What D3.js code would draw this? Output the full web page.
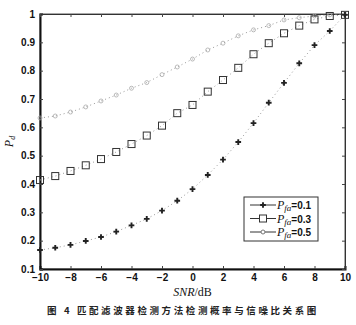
<!DOCTYPE html>
<html>
<head>
<meta charset="utf-8">
<script src="https://cdn.jsdelivr.net/npm/d3@7"></script>
<style>
  body { margin: 0; background: #fff; }
  svg { display: block; }
  .tick text { font-family: "Liberation Sans", Arial, sans-serif; font-weight: bold; font-size: 10px; fill: #111; }
</style>
</head>
<body>
<div id="svg_container"></div>
<script>
// SNR (dB) on x
let snr = [-10, -9, -8, -7, -6, -5, -4, -3, -2, -1, 0, 1, 2, 3, 4, 5, 6, 7, 8, 9, 10];
// detection probability for each false alarm level
let pd01 = [0.167, 0.175, 0.185, 0.199, 0.213, 0.232, 0.254, 0.277, 0.306, 0.341, 0.382, 0.432, 0.486, 0.548, 0.615, 0.687, 0.757, 0.826, 0.89, 0.94, 0.997];
let pd03 = [0.414, 0.428, 0.446, 0.466, 0.488, 0.513, 0.541, 0.571, 0.606, 0.65, 0.679, 0.726, 0.767, 0.81, 0.858, 0.897, 0.932, 0.959, 0.981, 0.993, 0.997];
let pd05 = [0.633, 0.64, 0.654, 0.672, 0.693, 0.714, 0.738, 0.758, 0.786, 0.813, 0.841, 0.873, 0.897, 0.923, 0.944, 0.959, 0.979, 0.987, 0.993, 0.997, 0.999];
let legendLabels = ['0.1', '0.3', '0.5'];
let xTicks = [-10, -8, -6, -4, -2, 0, 2, 4, 6, 8, 10];
let yTicks = [0.1, 0.2, 0.3, 0.4, 0.5, 0.6, 0.7, 0.8, 0.9, 1];
let caption = '图 4 匹配滤波器检测方法检测概率与信噪比关系图';

document.addEventListener('DOMContentLoaded', function (e) {
    let width = 356, height = 325;
    let margin = { top: 14, right: 11, bottom: 56, left: 40 };
    let svg = d3.select('#svg_container').append('svg')
        .attr('width', width)
        .attr('height', height);

    let x = d3.scaleLinear().domain([-10, 10]).range([margin.left, width - margin.right]);
    let y = d3.scaleLinear().domain([0.1, 1]).range([height - margin.bottom, margin.top]);

    // frame
    svg.append('rect')
        .attr('x', x(-10)).attr('y', y(1))
        .attr('width', x(10) - x(-10)).attr('height', y(0.1) - y(1))
        .attr('fill', 'none').attr('stroke', '#555').attr('stroke-width', 1);

    // axes, matlab style ticks pointing in
    let xAxis = svg.append('g').attr('transform', `translate(0,${y(0.1)})`)
        .call(d3.axisBottom(x).tickValues(xTicks).tickSize(-3).tickPadding(5).tickFormat(d3.format('d')));
    let yAxis = svg.append('g').attr('transform', `translate(${x(-10)},0)`)
        .call(d3.axisLeft(y).tickValues(yTicks).tickSize(-3).tickPadding(5).tickFormat(d => d === 1 ? '1' : d3.format('.1f')(d)));
    svg.append('g').attr('transform', `translate(0,${y(1)})`)
        .call(d3.axisTop(x).tickValues(xTicks).tickSize(-3).tickFormat(''));
    svg.append('g').attr('transform', `translate(${x(10)},0)`)
        .call(d3.axisRight(y).tickValues(yTicks).tickSize(-3).tickFormat(''));
    svg.selectAll('.domain').attr('stroke', '#333');
    xAxis.select('.domain').attr('stroke', '#111').attr('stroke-width', 2);
    yAxis.select('.domain').attr('stroke', '#111').attr('stroke-width', 2);
    svg.selectAll('.tick line').attr('stroke', '#444');

    let lineGen = d3.line().x((d, i) => x(snr[i])).y(d => y(d));

    // dotted lines
    [pd05, pd03, pd01].forEach(function (vals) {
        svg.append('path')
            .attr('d', lineGen(vals))
            .attr('fill', 'none')
            .attr('stroke', '#999')
            .attr('stroke-width', 1)
            .attr('stroke-dasharray', '1,3');
    });

    // Pfa = 0.5 circles, faint
    svg.selectAll('.c05').data(pd05).enter().append('circle')
        .attr('cx', (d, i) => x(snr[i])).attr('cy', d => y(d))
        .attr('r', 2).attr('fill', 'none').attr('stroke', '#aaa').attr('stroke-width', 0.8);

    // Pfa = 0.3 squares
    svg.selectAll('.s03').data(pd03).enter().append('rect')
        .attr('x', (d, i) => x(snr[i]) - 3.5).attr('y', d => y(d) - 3.5)
        .attr('width', 7).attr('height', 7)
        .attr('fill', 'none').attr('stroke', '#333').attr('stroke-width', 1);

    // Pfa = 0.1 plus markers
    let plus = d3.symbol().type(d3.symbolCross).size(18);
    svg.selectAll('.p01').data(pd01).enter().append('path')
        .attr('d', plus)
        .attr('transform', (d, i) => `translate(${x(snr[i])},${y(d)})`)
        .attr('fill', '#222');

    // legend
    let lx = 244, ly = 197;
    let legend = svg.append('g').attr('transform', `translate(${lx},${ly})`);
    legend.append('rect').attr('width', 74).attr('height', 44)
        .attr('fill', '#fff').attr('stroke', '#333').attr('stroke-width', 1);
    legendLabels.forEach(function (lab, i) {
        let row = legend.append('g').attr('transform', `translate(0,${8 + i * 13.5})`);
        row.append('line').attr('x1', 6).attr('x2', 32).attr('y1', 0).attr('y2', 0)
            .attr('stroke', '#333').attr('stroke-width', 1);
        if (i === 0) {
            row.append('path').attr('d', plus).attr('transform', 'translate(19,0)').attr('fill', '#222');
        } else if (i === 1) {
            row.append('rect').attr('x', 15.5).attr('y', -3.5).attr('width', 7).attr('height', 7)
                .attr('fill', '#fff').attr('stroke', '#333');
        } else {
            row.append('circle').attr('cx', 19).attr('cy', 0).attr('r', 2)
                .attr('fill', '#fff').attr('stroke', '#777');
        }
        let t = row.append('text').attr('x', 33).attr('y', 4)
            .attr('font-family', '"Liberation Serif", "Times New Roman", serif')
            .attr('font-size', 12).attr('fill', '#111');
        t.append('tspan').attr('font-style', 'italic').text('P');
        t.append('tspan').attr('font-style', 'italic').attr('font-size', 9).attr('dy', 2).text('fa');
        t.append('tspan').attr('dy', -2).attr('font-family', '"Liberation Sans", Arial, sans-serif')
            .attr('font-weight', 'bold').attr('font-size', 10).text('=' + lab);
    });

    // y label
    let yl = svg.append('text')
        .attr('transform', `translate(13,${y(0.55)}) rotate(-90)`)
        .attr('text-anchor', 'middle')
        .attr('font-family', '"Liberation Serif", "Times New Roman", serif')
        .attr('font-size', 12).attr('fill', '#111');
    yl.append('tspan').attr('font-style', 'italic').text('P');
    yl.append('tspan').attr('font-style', 'italic').attr('font-size', 8).attr('dy', 2).text('d');

    // x label
    let xl = svg.append('text')
        .attr('x', x(0)).attr('y', 296)
        .attr('text-anchor', 'middle')
        .attr('font-family', '"Liberation Serif", "Times New Roman", serif')
        .attr('font-size', 12).attr('fill', '#111');
    xl.append('tspan').attr('font-style', 'italic').text('SNR');
    xl.append('tspan').text('/dB');

    // caption
    svg.append('text')
        .attr('x', 183).attr('y', 314)
        .attr('text-anchor', 'middle')
        .attr('font-family', '"Noto Sans CJK SC", sans-serif')
        .attr('font-weight', 'bold')
        .attr('font-size', 9.5)
        .attr('letter-spacing', '2.6px')
        .attr('fill', '#222')
        .text(caption);
});
</script>
</body>
</html>
